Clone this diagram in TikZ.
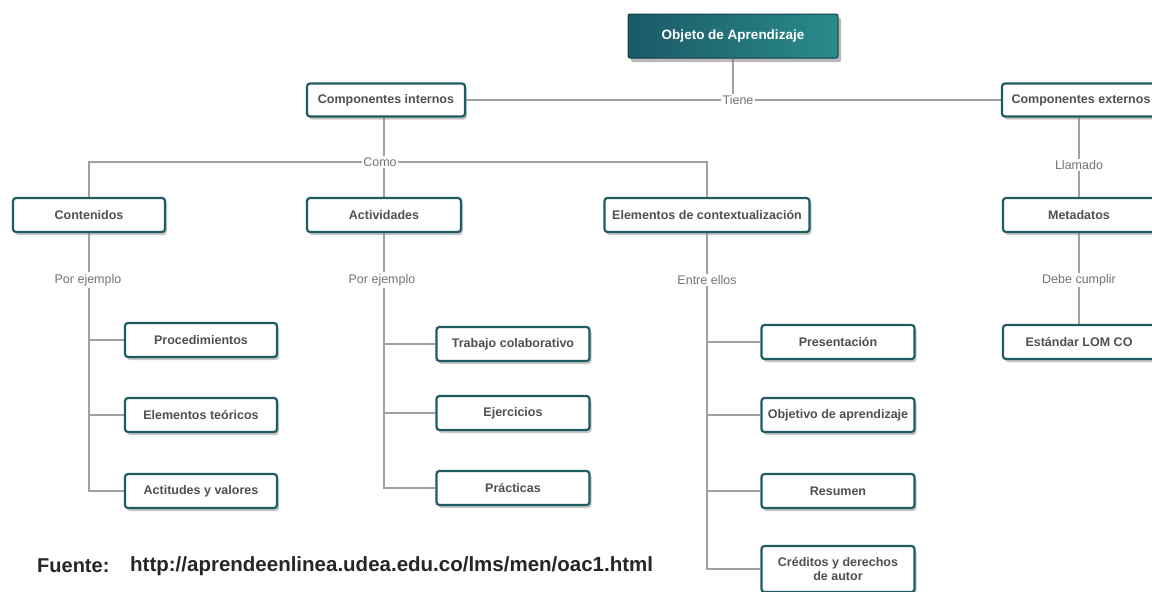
\documentclass[tikz,border=0pt]{standalone}
\usepackage{fontspec}
\setmainfont{Liberation Sans}
\usetikzlibrary{shadows,backgrounds}
\definecolor{tealb}{RGB}{30,92,98}
\definecolor{tealL}{RGB}{26,90,104}
\definecolor{tealR}{RGB}{42,138,138}
\definecolor{txtg}{RGB}{80,80,80}
\definecolor{lineg}{RGB}{160,160,160}
\begin{document}
\begin{tikzpicture}[x=1pt,y=-1pt,
  box/.style={draw=tealb,line width=2.2pt,rounded corners=3pt,fill=white,
    drop shadow={opacity=0.45,shadow xshift=2pt,shadow yshift=-3pt},
    text=txtg,font=\fontsize{12.5}{13.5}\selectfont\bfseries,align=center,
    minimum width=152pt,minimum height=34pt,inner sep=1pt},
  lbl/.style={fill=white,text=txtg!80,font=\fontsize{12.5}{14}\selectfont,inner sep=1.5pt},
  conn/.style={draw=lineg,line width=1.1pt}]
\useasboundingbox (0,0) rectangle (1152,592);
\clip (0,0) rectangle (1152,592);
% top node
\node[draw=tealb!70!black,line width=1pt,rounded corners=2pt,left color=tealL,right color=tealR,
  drop shadow={opacity=0.55,shadow xshift=3pt,shadow yshift=-4pt},
  text=white,font=\fontsize{13.5}{15}\selectfont\bfseries,minimum width=210pt,minimum height=44pt] (obj) at (733,36) {Objeto de Aprendizaje};
\node[box,minimum width=158pt,minimum height=33pt] (ci) at (386,100) {Componentes internos};
\node[box,minimum width=158pt,minimum height=33pt] (ce) at (1081,100) {Componentes externos};
\node[lbl] (tiene) at (738,100) {Tiene};
% level 2
\node[box] (cont) at (89,215) {Contenidos};
\node[box,minimum width=154pt] (act) at (384,215) {Actividades};
\node[box,minimum width=205pt] (elem) at (707,215) {Elementos de contextualización};
\node[lbl] (como) at (380,162) {Como};
\node[lbl] (pe1) at (88,280) {Por ejemplo};
\node[lbl] (pe2) at (382,280) {Por ejemplo};
\node[lbl] (entre) at (707,280) {Entre ellos};
% contenidos children
\node[box] (proc) at (201,340) {Procedimientos};
\node[box] (teor) at (201,415) {Elementos teóricos};
\node[box] (acti) at (201,491) {Actitudes y valores};
% actividades children
\node[box,minimum width=153pt] (trab) at (513,344) {Trabajo colaborativo};
\node[box,minimum width=153pt] (ejer) at (513,413) {Ejercicios};
\node[box,minimum width=153pt] (prac) at (513,488) {Prácticas};
% elementos children
\node[box,minimum width=153pt] (pres) at (838,342) {Presentación};
\node[box,minimum width=153pt] (objap) at (838,415) {Objetivo de aprendizaje};
\node[box,minimum width=153pt] (res) at (838,491) {Resumen};
\node[box,minimum width=153pt,minimum height=46pt] (cred) at (838,569) {Créditos y derechos\\de autor};
% right
\node[box] (meta) at (1079,215) {Metadatos};
\node[box] (lom) at (1079,342) {Estándar LOM CO};
\node[lbl] (llam) at (1079,165) {Llamado};
\node[lbl] (debe) at (1079,280) {Debe cumplir};
% source
\node[anchor=west,font=\fontsize{20}{22}\selectfont\bfseries,text=black!85,inner sep=0pt] (fu) at (37,566) {Fuente:};
\node[anchor=west,font=\fontsize{20.5}{22}\selectfont\bfseries,text=black!85,inner sep=0pt] (url) at (130,566) {http://aprendeenlinea.udea.edu.co/lms/men/oac1.html};
\begin{scope}[on background layer]
\draw[conn] (obj.south) -- (obj.south |- tiene.north);
\draw[conn] (ci.east) -- (tiene.west);
\draw[conn] (tiene.east) -- (ce.west);
\draw[conn] (act.north |- ci.south) -- (act.north);
\draw[conn] (cont.north) |- (como.west);
\draw[conn] (como.east) -| (elem.north);
\draw[conn] (cont.south) -- (cont.south |- pe1.north);
\draw[conn] (act.south) -- (act.south |- pe2.north);
\draw[conn] (elem.south) -- (elem.south |- entre.north);
\draw[conn] (cont.south |- pe1.south) |- (acti.west);
\draw[conn] (cont.south |- proc.west) -- (proc.west);
\draw[conn] (cont.south |- teor.west) -- (teor.west);
\draw[conn] (act.south |- pe2.south) |- (prac.west);
\draw[conn] (act.south |- trab.west) -- (trab.west);
\draw[conn] (act.south |- ejer.west) -- (ejer.west);
\draw[conn] (elem.south |- entre.south) |- (cred.west);
\draw[conn] (elem.south |- pres.west) -- (pres.west);
\draw[conn] (elem.south |- objap.west) -- (objap.west);
\draw[conn] (elem.south |- res.west) -- (res.west);
\draw[conn] (meta.north |- ce.south) -- (meta.north);
\draw[conn] (meta.south) -- (lom.north);
\end{scope}
\end{tikzpicture}
\end{document}
